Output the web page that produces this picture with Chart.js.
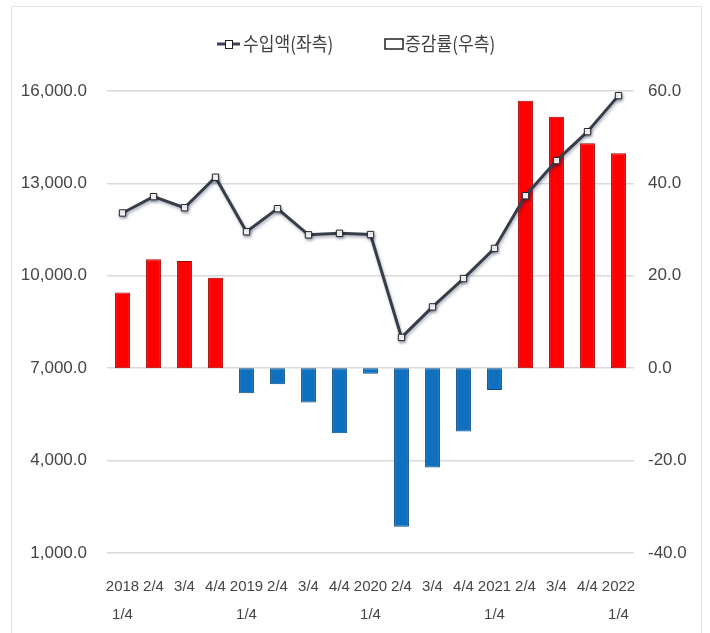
<!DOCTYPE html>
<html>
<head>
<meta charset="utf-8">
<script src="https://cdn.jsdelivr.net/npm/chart.js@4"></script>
<style>
  html, body { margin: 0; padding: 0; background: #fff; }
  #wrap { position: relative; width: 710px; height: 633px; }
  #frame { position: absolute; left: 11px; top: 6px; width: 689px; height: 640px;
           border: 1px solid #e4e4e4; pointer-events: none; }
</style>
</head>
<body>
<div id="wrap">
  <canvas id="chart" width="710" height="633"></canvas>
  <div id="frame"></div>
</div>
<script>
// 분기 라벨
const quarters = [
  ['2018', '1/4'], '2/4', '3/4', '4/4',
  ['2019', '1/4'], '2/4', '3/4', '4/4',
  ['2020', '1/4'], '2/4', '3/4', '4/4',
  ['2021', '1/4'], '2/4', '3/4', '4/4',
  ['2022', '1/4']
];

// 수입액 (좌측)
const importAmount = [
  12040, 12570, 12210, 13200, 11430, 12180, 11330, 11380, 11340,
  8000, 8990, 9910, 10890, 12600, 13740, 14680, 15850
];

// 증감률 (우측)
const changeRate = [
  16.4, 23.6, 23.2, 19.6, -5.4, -3.5, -7.4, -14.1, -1.2,
  -34.3, -21.5, -13.7, -4.7, 57.9, 54.4, 48.7, 46.5
];

const leftTicks = [1000, 4000, 7000, 10000, 13000, 16000];
const rightTicks = [-40, -20, 0, 20, 40, 60];

const fontFamily = "'Liberation Sans', Arial, sans-serif";
const tickColor = '#454545';

const shadowPlugin = {
  id: 'lineShadow',
  beforeDatasetDraw(chart, args) {
    if (args.meta.type !== 'line') return;
    const ctx = chart.ctx;
    ctx.save();
    ctx.shadowColor = 'rgba(20,30,70,0.35)';
    ctx.shadowBlur = 3;
    ctx.shadowOffsetX = 1;
    ctx.shadowOffsetY = 2;
  },
  afterDatasetDraw(chart, args) {
    if (args.meta.type !== 'line') return;
    chart.ctx.restore();
  }
};

const legendPlugin = {
  id: 'customLegend',
  afterDraw(chart) {
    const ctx = chart.ctx;
    ctx.save();
    const y = 44;
    // 수입액 legend (line + square marker)
    ctx.strokeStyle = '#3b4150';
    ctx.lineWidth = 3;
    ctx.beginPath();
    ctx.moveTo(217, y);
    ctx.lineTo(240, y);
    ctx.stroke();
    ctx.fillStyle = '#fff';
    ctx.strokeStyle = '#222';
    ctx.lineWidth = 1;
    ctx.fillRect(225, y - 4, 7, 8);
    ctx.strokeRect(225.5, y - 3.5, 7, 8);
    // 증감률 legend (empty box)
    ctx.lineWidth = 1.5;
    ctx.strokeRect(385, y - 5, 18, 10);

    ctx.font = "19px 'Noto Sans CJK KR', sans-serif";
    ctx.fillStyle = '#404040';
    ctx.textBaseline = 'middle';
    ctx.translate(243, y);
    ctx.scale(0.9, 1);
    ctx.fillText('수입액(좌측)', 0, 0);
    ctx.setTransform(1, 0, 0, 1, 0, 0);
    ctx.translate(405, y);
    ctx.scale(0.9, 1);
    ctx.fillText('증감률(우측)', 0, 0);
    ctx.restore();
  }
};

new Chart(document.getElementById('chart'), {
  data: {
    labels: quarters,
    datasets: [
      {
        type: 'line',
        label: '수입액(좌측)',
        data: importAmount,
        yAxisID: 'y',
        order: 0,
        borderColor: '#383d4a',
        borderWidth: 3,
        tension: 0,
        pointStyle: 'rect',
        pointRadius: 4.5,
        pointBackgroundColor: '#fff',
        pointBorderColor: '#222',
        pointBorderWidth: 1
      },
      {
        type: 'bar',
        label: '증감률(우측)',
        data: changeRate,
        yAxisID: 'y1',
        order: 1,
        backgroundColor: changeRate.map(v => v >= 0 ? '#ff0000' : '#0f70c0'),
        borderColor: changeRate.map(v => v >= 0 ? '#a40000' : '#0a4b85'),
        borderWidth: 1,
        borderSkipped: false,
        categoryPercentage: 1,
        barPercentage: 0.48
      }
    ]
  },
  options: {
    responsive: false,
    animation: false,
    layout: { padding: { top: 91, left: 0, right: 0, bottom: 0 } },
    plugins: {
      legend: { display: false },
      tooltip: { enabled: false }
    },
    scales: {
      x: {
        grid: { display: false, drawTicks: false },
        border: { display: false },
        ticks: {
          autoSkip: false,
          maxRotation: 0,
          padding: 20,
          color: tickColor,
          font: { family: fontFamily, size: 15, lineHeight: 1.85 }
        },
        afterFit(scale) { scale.height = 80; }
      },
      y: {
        position: 'left',
        min: 1000,
        max: 16000,
        afterBuildTicks(scale) { scale.ticks = leftTicks.map(v => ({ value: v })); },
        grid: { color: '#d9d9d9', lineWidth: 1.5, drawTicks: false },
        border: { display: false },
        ticks: {
          padding: 20,
          color: tickColor,
          font: { family: fontFamily, size: 17 },
          callback: v => v.toLocaleString('en-US', { minimumFractionDigits: 1, maximumFractionDigits: 1 })
        },
        afterFit(scale) { scale.width = 107; }
      },
      y1: {
        position: 'right',
        min: -40,
        max: 60,
        afterBuildTicks(scale) { scale.ticks = rightTicks.map(v => ({ value: v })); },
        grid: { display: false, drawTicks: false },
        border: { display: false },
        ticks: {
          padding: 14,
          color: tickColor,
          font: { family: fontFamily, size: 17 },
          callback: v => v.toFixed(1)
        },
        afterFit(scale) { scale.width = 76; }
      }
    }
  },
  plugins: [shadowPlugin, legendPlugin]
});
</script>
</body>
</html>
